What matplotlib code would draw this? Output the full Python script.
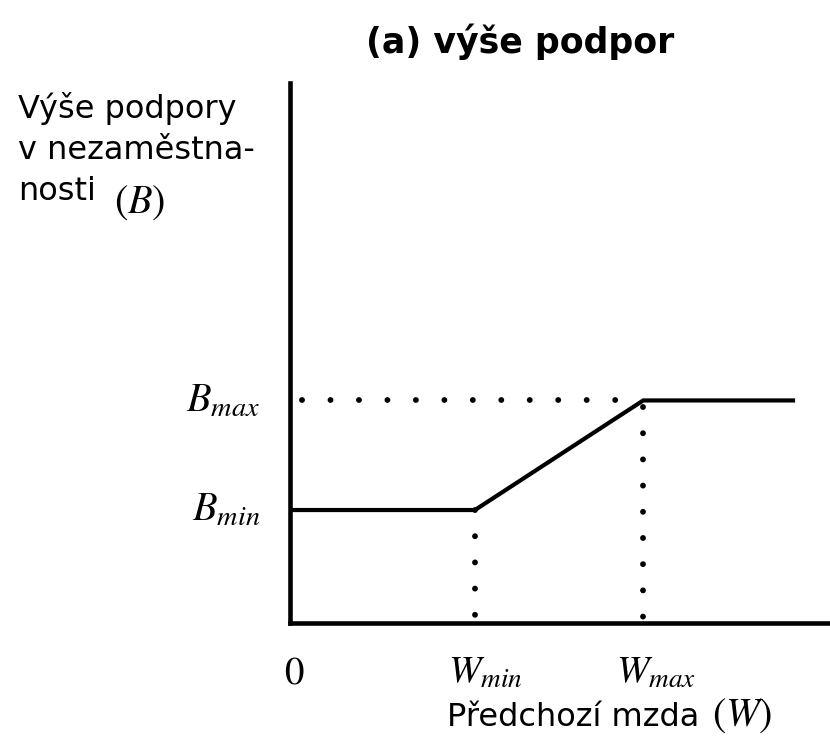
import matplotlib
matplotlib.use('Agg')

import matplotlib.pyplot as plt
import matplotlib.transforms as mtransforms

plt.rcParams['mathtext.fontset'] = 'stix'

# Benefit schedule (relative units)
w_min, w_max, w_end = 1.0, 1.91, 2.72
b_min, b_max = 1.0, 1.97
schedule_w = [0.0, w_min, w_max, w_end]
schedule_b = [b_min, b_min, b_max, b_max]

title = '(a) výše podpor'
y_label_lines = ['Výše podpory', 'v nezaměstna-', 'nosti']
x_label = 'Předchozí mzda'
x_ticks = [(0.0, '$0$'), (w_min, '$W_{min}$'), (w_max, '$W_{max}$')]
y_ticks = [(b_min, '$B_{min}$'), (b_max, '$B_{max}$')]

fig = plt.figure(figsize=(8.3, 7.43), dpi=100)
ax = fig.add_axes([290 / 830, 120 / 743, 540 / 830, 540 / 743])
ax.set_xlim(0, 2.92)
ax.set_ylim(0, 4.78)

for side in ['top', 'right']:
    ax.spines[side].set_visible(False)
for side in ['left', 'bottom']:
    ax.spines[side].set_linewidth(3.3)
    ax.spines[side].set_capstyle('projecting')
ax.set_xticks([])
ax.set_yticks([])

# dotted guide lines
dot = dict(color='black', lw=4.2, dash_capstyle='round')
ax.plot([0.065, w_max], [b_max, b_max], ls=(0, (0.01, 4.87)), **dot)
ax.plot([w_min, w_min], [b_min, 0.0], ls=(0, (0.01, 4.48)), **dot)
ax.plot([w_max, w_max], [b_max - 0.06, 0.0], ls=(0, (0.01, 4.48)), **dot)

# benefit line
ax.plot(schedule_w, schedule_b, color='black', lw=3.0, solid_joinstyle='miter')

# tick-like labels
for x, lab in x_ticks:
    off = mtransforms.offset_copy(ax.transData, fig=fig, x=-6 if x == 0 else -27,
                                  y=-30, units='dots')
    ax.text(x, 0, lab, transform=off, fontsize=28, ha='left', va='top')
for y, lab in y_ticks:
    ax.text(-0.055, y, lab, transform=ax.get_yaxis_transform(), fontsize=29,
            ha='right', va='center')

for i, line in enumerate(y_label_lines):
    fig.text(18 / 830, 1 - (118 + 41 * i) / 743, line, fontsize=23,
             ha='left', va='baseline')
fig.text(114 / 830, 1 - 222 / 743, '$(B)$', fontsize=29, ha='left', va='bottom')
fig.text(447 / 830, 1 - 733 / 743, x_label, fontsize=23, ha='left', va='bottom')
fig.text(712 / 830, 1 - 735 / 743, '$(W)$', fontsize=29, ha='left', va='bottom')
fig.text(520 / 830, 1 - 42 / 743, title, fontsize=25, fontweight='bold',
         ha='center', va='center')

fig.savefig('out.png', dpi=100)
